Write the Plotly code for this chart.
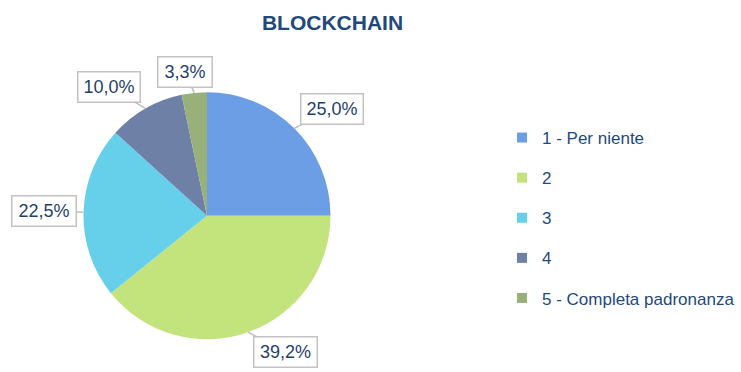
import math
import plotly.graph_objects as go

# Survey answers for the BLOCKCHAIN knowledge question
categories = ["1 - Per niente", "2", "3", "4", "5 - Completa padronanza"]
shares = [25.0, 39.2, 22.5, 10.0, 3.3]
colors = ["#6C9EE6", "#C3E47C", "#66CFEA", "#6E80A6", "#98B17A"]

W, H = 741, 372
CX, CY, R = 207.0, 215.7, 123.5  # pie centre and radius in pixels

TEXT_BLUE = "#1F3F6B"
FONT = "Liberation Sans, Arial, sans-serif"

fig = go.Figure()

fig.add_trace(go.Pie(
    labels=categories,
    values=shares,
    sort=False,
    direction="clockwise",
    rotation=0,
    marker=dict(colors=colors, line=dict(width=0)),
    textinfo="none",
    hoverinfo="label+percent",
    showlegend=False,
    domain=dict(x=[(CX - R) / W, (CX + R) / W],
                y=[(H - CY - R) / H, (H - CY + R) / H]),
))

# Legend entries drawn as separate groups so the rows can be spaced out
for name, col in zip(categories, colors):
    fig.add_trace(go.Scatter(
        x=[None], y=[None], mode="markers", name=name,
        legendgroup=name,
        marker=dict(symbol="square", size=10, color=col),
        hoverinfo="skip",
    ))

# Callout boxes: pointer touches the rim at each slice's mid-angle
label_offsets = [(38, -19), (37, 20), (-40, -1), (-36, -22), (-9, -21)]
box_widths = [57, 58, 59, 57, 49]
total = sum(shares)
start = 0.0
for v, (ox, oy), bw in zip(shares, label_offsets, box_widths):
    mid = math.radians((start + v / 2) / total * 360.0)
    start += v
    px = CX + R * math.sin(mid)
    py = CY - R * math.cos(mid)
    fig.add_annotation(
        x=px / W, y=1 - py / H, xref="paper", yref="paper",
        ax=ox, ay=oy, axref="pixel", ayref="pixel",
        text=f"{v:.1f}".replace(".", ",") + "%",
        showarrow=True, arrowhead=0, arrowwidth=1.5, arrowcolor="#BFBFBF",
        font=dict(family=FONT, size=18, color=TEXT_BLUE),
        bgcolor="white", bordercolor="#C3C3C3", borderwidth=1.5,
        borderpad=2, width=bw, height=25, align="center", valign="middle",
    )

fig.update_layout(
    width=W, height=H,
    margin=dict(l=0, r=0, t=0, b=0),
    paper_bgcolor="white", plot_bgcolor="white",
    title=dict(text="<b>BLOCKCHAIN</b>", x=332.5 / W, xanchor="center",
               y=1 - 22.5 / H, yanchor="middle",
               font=dict(family=FONT, size=21, color="#1F497D")),
    xaxis=dict(visible=False), yaxis=dict(visible=False),
    legend=dict(x=502 / W, xanchor="left", y=1 - 120 / H, yanchor="top",
                font=dict(family=FONT, size=17, color="#1F497D"),
                itemwidth=30, tracegroupgap=15, bgcolor="rgba(0,0,0,0)"),
    showlegend=True,
)

fig.write_html("out.html")
